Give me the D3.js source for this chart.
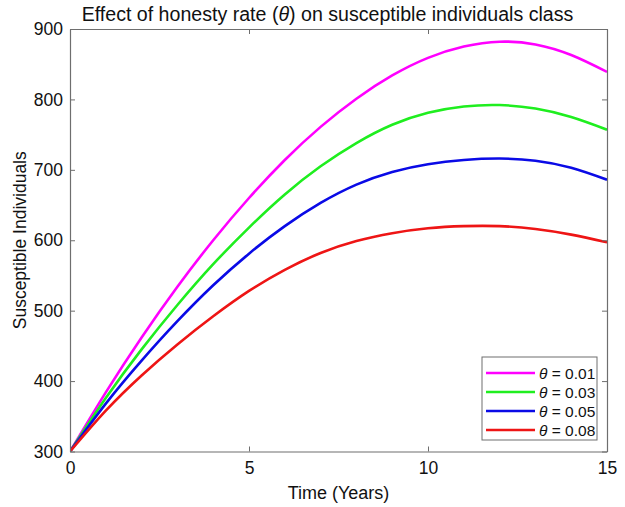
<!DOCTYPE html>
<html>
<head>
<meta charset="utf-8">
<script src="https://cdn.jsdelivr.net/npm/d3@7"></script>
<style>
  html, body { margin: 0; padding: 0; background: #fff; }
  svg { display: block; font-family: "Liberation Sans", Arial, sans-serif; }
</style>
</head>
<body>
<svg id="chart" width="625" height="507"></svg>
<script>
// Time in years
const years = [0, 1, 2, 3, 4, 5, 6, 7, 8, 9, 10, 11, 12, 13, 14, 15];

// Susceptible individuals for each honesty rate
const theta001 = [300, 384, 462, 534, 600, 660, 714, 761, 801, 834, 859, 875, 882, 878, 863, 839];
const theta003 = [300, 376, 445, 508, 566, 618, 665, 705, 738, 764, 781, 790, 792, 787, 775, 757];
const theta005 = [300, 368, 429, 485, 536, 581, 620, 653, 679, 697, 708, 714, 716, 713, 703, 686];
const theta008 = [300, 358, 408, 452, 492, 528, 558, 582, 599, 610, 617, 620, 620, 616, 608, 597];

const seriesLabels = ["0.01", "0.03", "0.05", "0.08"];
const seriesColors = ["#ff00ff", "#1fee1f", "#0a0ae6", "#ee1515"];
const seriesValues = [theta001, theta003, theta005, theta008];

const xTicks = [0, 5, 10, 15];
const yTicks = [300, 400, 500, 600, 700, 800, 900];

const margin = { left: 70, right: 18, top: 29, bottom: 55.5 };
const W = 625, H = 507;
const svg = d3.select("#chart");

const x = d3.scaleLinear().domain([0, 15]).range([margin.left, W - margin.right]);
const y = d3.scaleLinear().domain([300, 900]).range([H - margin.bottom, margin.top]);

const axisColor = "#6e6e6e";
const tickLen = 5;
const fontSize = 17.5;

// Curves
const line = d3.line()
  .x((d, i) => x(years[i]))
  .y(d => y(d))
  .curve(d3.curveNatural);

const plot = svg.append("g");
plot.append("defs").append("clipPath").attr("id", "clip")
  .append("rect")
  .attr("x", x(0)).attr("y", y(900))
  .attr("width", x(15) - x(0)).attr("height", y(300) - y(900));

const curves = plot.append("g").attr("clip-path", "url(#clip)");
seriesValues.forEach((vals, i) => {
  curves.append("path")
    .attr("d", line(vals))
    .attr("fill", "none")
    .attr("stroke", seriesColors[i])
    .attr("stroke-width", 2.6)
    .attr("stroke-linejoin", "round");
});

// Axes: bottom and left with labels, top and right as plain frame ticks
const xAxis = d3.axisBottom(x).tickValues(xTicks).tickSizeInner(-tickLen).tickSizeOuter(0).tickPadding(10);
const yAxis = d3.axisLeft(y).tickValues(yTicks).tickSizeInner(-tickLen).tickSizeOuter(0).tickPadding(7);
const xAxisTop = d3.axisTop(x).tickValues(xTicks).tickSizeInner(-tickLen).tickSizeOuter(0).tickFormat("");
const yAxisRight = d3.axisRight(y).tickValues(yTicks).tickSizeInner(-tickLen).tickSizeOuter(0).tickFormat("");

function styleAxis(g) {
  g.select(".domain").attr("stroke", axisColor).attr("stroke-width", 1.2);
  g.selectAll(".tick line").attr("stroke", axisColor).attr("stroke-width", 1);
  g.selectAll(".tick text").attr("fill", "#111").attr("font-size", fontSize)
    .attr("font-family", "'Liberation Sans', Arial, sans-serif");
}

svg.append("g").attr("transform", `translate(0,${y(300)})`).call(xAxis).call(styleAxis);
svg.append("g").attr("transform", `translate(${x(0)},0)`).call(yAxis).call(styleAxis);
svg.append("g").attr("transform", `translate(0,${y(900)})`).call(xAxisTop).call(styleAxis);
svg.append("g").attr("transform", `translate(${x(15)},0)`).call(yAxisRight).call(styleAxis);

// Titles
const title = svg.append("text")
  .attr("x", 327.5).attr("y", 21)
  .attr("text-anchor", "middle").attr("font-size", 19.6).attr("fill", "#111");
title.append("tspan").text("Effect of honesty rate (");
title.append("tspan").attr("font-style", "italic").text("θ");
title.append("tspan").text(") on susceptible individuals class");

svg.append("text")
  .attr("x", (x(0) + x(15)) / 2).attr("y", 499)
  .attr("text-anchor", "middle").attr("font-size", 18).attr("fill", "#111")
  .text("Time (Years)");

svg.append("text")
  .attr("transform", `translate(26,${(y(300) + y(900)) / 2}) rotate(-90)`)
  .attr("text-anchor", "middle").attr("font-size", fontSize).attr("fill", "#111")
  .text("Susceptible Individuals");

// Legend
const legend = svg.append("g").attr("transform", "translate(482,357)");
legend.append("rect")
  .attr("width", 115).attr("height", 83)
  .attr("fill", "#fff").attr("stroke", axisColor).attr("stroke-width", 1);
seriesLabels.forEach((lab, i) => {
  const yy = 16 + i * 19;
  legend.append("line")
    .attr("x1", 4).attr("x2", 53).attr("y1", yy).attr("y2", yy)
    .attr("stroke", seriesColors[i]).attr("stroke-width", 2.6);
  const t = legend.append("text")
    .attr("x", 57).attr("y", yy + 5.5)
    .attr("font-size", 15.5).attr("fill", "#111");
  t.append("tspan").attr("font-style", "italic").text("θ");
  t.append("tspan").text(" = " + lab);
});
</script>
</body>
</html>
